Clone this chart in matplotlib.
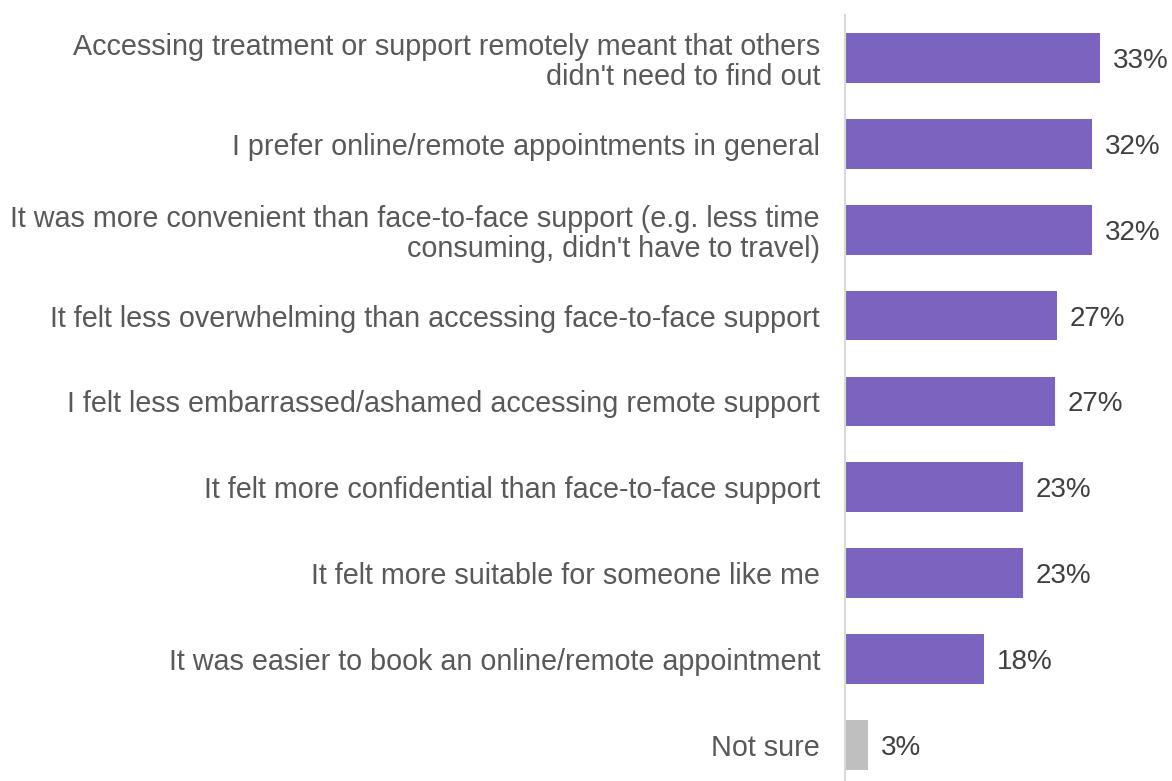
import matplotlib.pyplot as plt

plt.rcParams['font.family'] = ['Liberation Sans', 'DejaVu Sans']

# 数据
labels = [
    "Accessing treatment or support remotely meant that others\ndidn't need to find out",
    "I prefer online/remote appointments in general",
    "It was more convenient than face-to-face support (e.g. less time\nconsuming, didn't have to travel)",
    "It felt less overwhelming than accessing face-to-face support",
    "I felt less embarrassed/ashamed accessing remote support",
    "It felt more confidential than face-to-face support",
    "It felt more suitable for someone like me",
    "It was easier to book an online/remote appointment",
    "Not sure",
]
values = [33, 32, 32, 27.4, 27.2, 23, 23, 18, 3]
value_text = ["33%", "32%", "32%", "27%", "27%", "23%", "23%", "18%", "3%"]
colors = ["#7B64C0"] * 8 + ["#BFBFBF"]

fig = plt.figure(figsize=(11.72, 7.81), dpi=100)
ax = fig.add_axes([845 / 1172, 0, 1 - 845 / 1172, 1 - 15 / 781])

y = list(range(len(labels)))
ax.barh(y, values, height=0.58, color=colors)

ax.set_ylim(8 + 36 / 85.9, -0.5)
ax.set_xlim(0, 327 / 7.73)

for i, (v, t) in enumerate(zip(values, value_text)):
    ax.annotate(t, (v, i), xytext=(9, 0), textcoords='offset points',
                va='center_baseline', ha='left', fontsize=20, color='#404040')

ax.set_yticks(y)
ax.set_yticklabels(labels, fontsize=20.7, color='#595959', linespacing=1.1)
ax.tick_params(axis='y', length=0, pad=18)
ax.set_xticks([])

for s in ['top', 'right', 'bottom']:
    ax.spines[s].set_visible(False)
ax.spines['left'].set_color('#D9D9D9')
ax.spines['left'].set_linewidth(1.5)

fig.savefig('out.png', dpi=100)
